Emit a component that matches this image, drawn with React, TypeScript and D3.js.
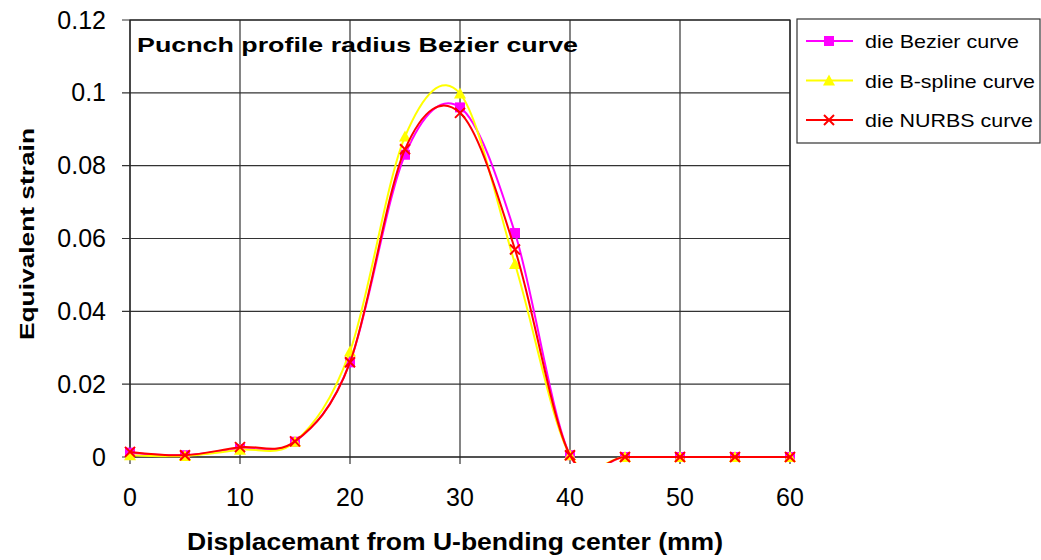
import React, { useRef, useEffect } from "react";
import * as d3 from "d3";

const xs = [0, 5, 10, 15, 20, 25, 30, 35, 40, 45, 50, 55, 60];
const bezier = [0.0012, 0.0005, 0.0022, 0.0042, 0.026, 0.083, 0.096, 0.0615, 0.0005, 0, 0, 0, 0];
const bspline = [0.0005, 0.0003, 0.002, 0.0042, 0.029, 0.088, 0.0998, 0.053, 0.0005, 0, 0, 0, 0];
const nurbs = [0.0014, 0.0005, 0.0027, 0.0043, 0.026, 0.0845, 0.0945, 0.057, 0.0005, 0, 0, 0, 0];
const seriesNames = ["die Bezier curve", "die B-spline curve", "die NURBS curve"];
const seriesColors = ["#ff00ff", "#ffff00", "#ff0000"];
const xTicks = [0, 10, 20, 30, 40, 50, 60];
const yTicks = [0, 0.02, 0.04, 0.06, 0.08, 0.1, 0.12];

const FONT = "'Liberation Sans', Arial, sans-serif";

const App = () => {
  const svgRef = useRef<SVGSVGElement>(null);

  useEffect(() => {
    const svg = d3.select(svgRef.current);
    svg.selectAll("*").remove();

    const left = 130, right = 790, top = 20, bottom = 457;
    const x = d3.scaleLinear().domain([0, 60]).range([left, right]);
    const y = d3.scaleLinear().domain([0, 0.12]).range([bottom, top]);

    // clip for the smoothed lines
    svg.append("defs").append("clipPath").attr("id", "plotclip")
      .append("rect").attr("x", left - 6).attr("y", top).attr("width", right - left + 12).attr("height", bottom - top + 6);

    // grid + ticks
    const g = svg.append("g");
    g.selectAll(".hg").data(yTicks).enter().append("line")
      .attr("x1", left - 8).attr("x2", right)
      .attr("y1", d => y(d)).attr("y2", d => y(d))
      .attr("stroke", "#333").attr("stroke-width", 1.2);
    g.selectAll(".vg").data(xTicks).enter().append("line")
      .attr("x1", d => x(d)).attr("x2", d => x(d))
      .attr("y1", top).attr("y2", bottom + 7)
      .attr("stroke", "#333").attr("stroke-width", 1.2);
    g.append("rect").attr("x", left).attr("y", top).attr("width", right - left).attr("height", bottom - top)
      .attr("fill", "none").attr("stroke", "#222").attr("stroke-width", 1.2);

    // tick labels
    g.selectAll(".yl").data(yTicks).enter().append("text")
      .attr("x", 106).attr("y", d => y(d) + 8.5)
      .attr("text-anchor", "end").attr("font-family", FONT).attr("font-size", 25)
      .text(d => (d === 0 ? "0" : String(+d.toFixed(2))));
    g.selectAll(".xl").data(xTicks).enter().append("text")
      .attr("x", d => x(d)).attr("y", 506)
      .attr("text-anchor", "middle").attr("font-family", FONT).attr("font-size", 25)
      .text(d => d);

    // axis titles
    svg.append("text")
      .attr("transform", `translate(34, 234) rotate(-90)`)
      .attr("x", -106)
      .attr("font-family", FONT).attr("font-size", 21).attr("font-weight", "bold")
      .attr("textLength", 212).attr("lengthAdjust", "spacingAndGlyphs")
      .text("Equivalent strain");
    svg.append("text")
      .attr("x", 187).attr("y", 550)
      .attr("font-family", FONT).attr("font-size", 24).attr("font-weight", "bold")
      .attr("textLength", 536).attr("lengthAdjust", "spacingAndGlyphs")
      .text("Displacemant from U-bending center (mm)");
    svg.append("text")
      .attr("x", 137).attr("y", 52)
      .attr("font-family", FONT).attr("font-size", 20).attr("font-weight", "bold")
      .attr("textLength", 441).attr("lengthAdjust", "spacingAndGlyphs")
      .text("Pucnch profile radius Bezier curve");

    // lines
    const allSeries = [bezier, bspline, nurbs];
    const line = d3.line<number>()
      .x((_, i) => x(xs[i]))
      .y(d => y(d))
      .curve(d3.curveCardinal.tension(0));

    const drawMarker = (sel: any, k: number, cx: number, cy: number) => {
      if (k === 0) {
        sel.append("rect").attr("x", cx - 5).attr("y", cy - 5).attr("width", 10).attr("height", 10)
          .attr("fill", seriesColors[0]);
      } else if (k === 1) {
        sel.append("path").attr("d", `M${cx},${cy - 6}L${cx + 6},${cy + 5}L${cx - 6},${cy + 5}Z`)
          .attr("fill", seriesColors[1]);
      } else {
        sel.append("path").attr("d", `M${cx - 5},${cy - 5}L${cx + 5},${cy + 5}M${cx - 5},${cy + 5}L${cx + 5},${cy - 5}`)
          .attr("stroke", seriesColors[2]).attr("stroke-width", 2).attr("fill", "none");
      }
    };

    allSeries.forEach((vals, k) => {
      const sg = svg.append("g");
      sg.append("path").datum(vals).attr("d", line)
        .attr("clip-path", "url(#plotclip)")
        .attr("fill", "none").attr("stroke", seriesColors[k]).attr("stroke-width", 2);
      vals.forEach((v, i) => drawMarker(sg, k, x(xs[i]), y(v)));
    });

    // legend
    const legendWidths = [154, 170, 168];
    const lg = svg.append("g");
    lg.append("rect").attr("x", 797).attr("y", 19).attr("width", 243).attr("height", 124)
      .attr("fill", "#fff").attr("stroke", "#333").attr("stroke-width", 1.2);
    seriesNames.forEach((name, k) => {
      const ly = 41 + k * 39.5;
      lg.append("line").attr("x1", 806).attr("x2", 853).attr("y1", ly).attr("y2", ly)
        .attr("stroke", seriesColors[k]).attr("stroke-width", 2);
      drawMarker(lg, k, 829, ly);
      lg.append("text").attr("x", 865).attr("y", ly + 7)
        .attr("font-family", FONT).attr("font-size", 19)
        .attr("textLength", legendWidths[k]).attr("lengthAdjust", "spacingAndGlyphs")
        .text(name);
    });
  }, []);

  return (
    <div style={{ position: "absolute", left: 0, top: 0 }}>
      <svg ref={svgRef} width={1041} height={560} style={{ display: "block", background: "#fff" }} />
    </div>
  );
};

export default App;
